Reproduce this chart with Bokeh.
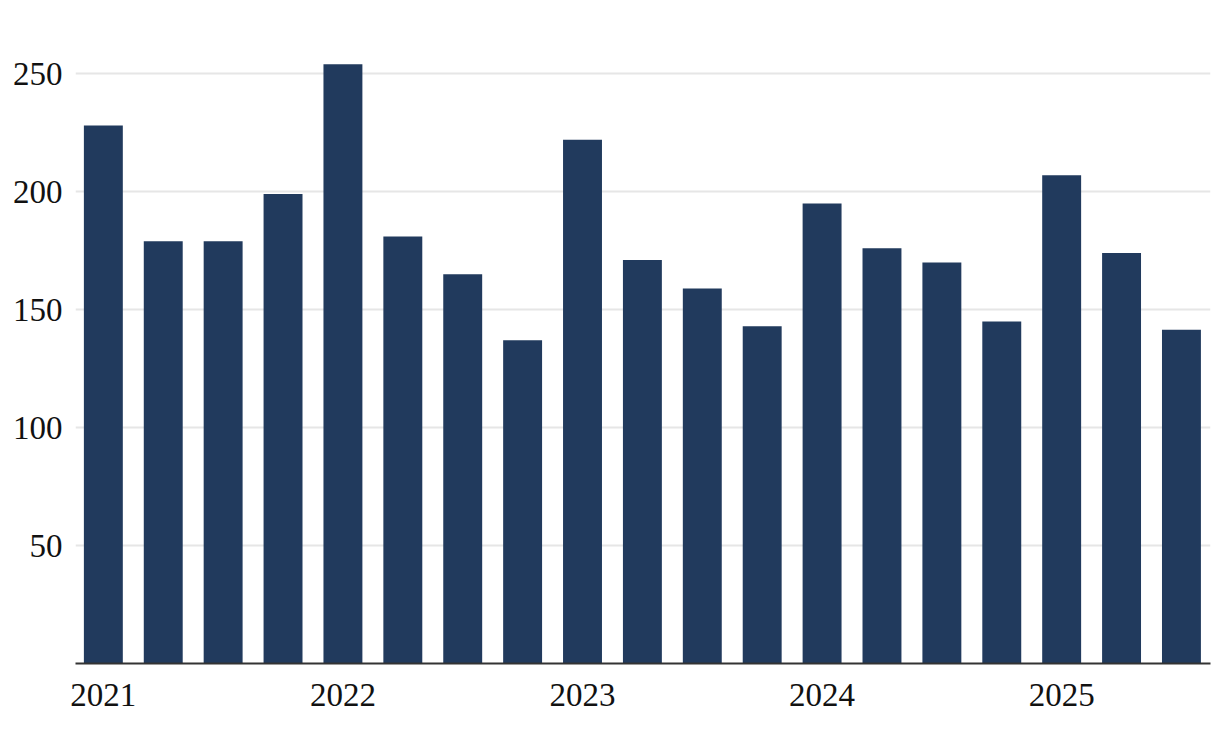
from bokeh.plotting import figure
from bokeh.models import FixedTicker, Range1d, ColumnDataSource
from bokeh.embed import file_html
from bokeh.resources import INLINE

quarters = ["2021Q1","2021Q2","2021Q3","2021Q4","2022Q1","2022Q2","2022Q3","2022Q4",
            "2023Q1","2023Q2","2023Q3","2023Q4","2024Q1","2024Q2","2024Q3","2024Q4",
            "2025Q1","2025Q2","2025Q3"]
values = [228, 179, 179, 199, 254, 181, 165, 137, 222, 171, 159, 143, 195, 176, 170, 145, 207, 174, 141.5]
year_ticks = [0, 4, 8, 12, 16]
year_labels = ["2021", "2022", "2023", "2024", "2025"]
y_ticks = [50, 100, 150, 200, 250]

src = ColumnDataSource(dict(x=list(range(len(values))), top=values, q=quarters))

p = figure(width=1212, height=728, output_backend="svg", toolbar_location=None,
           x_range=Range1d(-0.465, 18.485), y_range=Range1d(0, 270),
           min_border_left=75, min_border_right=2, min_border_top=26, min_border_bottom=65)
p.outline_line_color = None
p.background_fill_color = "white"
p.border_fill_color = "white"

p.vbar(x="x", top="top", width=0.65, bottom=0, source=src, color="#213a5d", line_color=None)

font = "Liberation Serif"
p.xaxis.ticker = FixedTicker(ticks=year_ticks)
p.xaxis.major_label_overrides = {t: l for t, l in zip(year_ticks, year_labels)}
p.xaxis.major_tick_line_color = None
p.xaxis.minor_tick_line_color = None
p.xaxis.axis_line_color = "#333333"
p.xaxis.axis_line_width = 2
p.xaxis.major_label_text_font = font
p.xaxis.major_label_text_font_size = "33px"
p.xaxis.major_label_text_color = "#111111"
p.xaxis.major_label_standoff = 14

p.yaxis.ticker = FixedTicker(ticks=y_ticks)
p.yaxis.major_tick_line_color = None
p.yaxis.minor_tick_line_color = None
p.yaxis.axis_line_color = None
p.yaxis.major_label_text_font = font
p.yaxis.major_label_text_font_size = "33px"
p.yaxis.major_label_text_color = "#111111"
p.yaxis.major_label_standoff = 7

p.xgrid.grid_line_color = None
p.ygrid.ticker = FixedTicker(ticks=y_ticks)
p.ygrid.grid_line_color = "#e6e6e6"
p.ygrid.grid_line_width = 2

open("out.html", "w").write(file_html(p, INLINE))
